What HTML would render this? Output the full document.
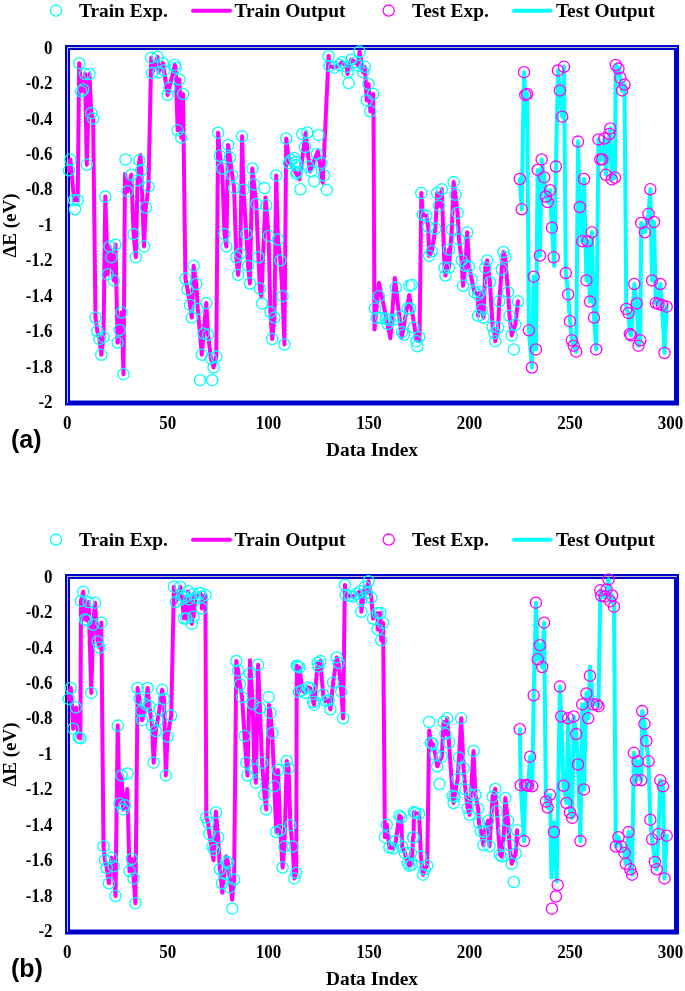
<!DOCTYPE html>
<html><head><meta charset="utf-8"><style>
html,body{margin:0;padding:0;background:#fff;}
svg{display:block;will-change:transform;}
.lg{font-family:"Liberation Serif",serif;font-weight:bold;font-size:19.4px;fill:#000;}
.tk{font-family:"Liberation Serif",serif;font-weight:bold;font-size:17px;fill:#000;}
.pl{font-family:"Liberation Sans",sans-serif;font-weight:bold;font-size:25px;fill:#000;}
</style></head><body>
<svg width="685" height="991" viewBox="0 0 685 991">
<g transform="translate(0,0)">
<circle cx="56" cy="10.6" r="5.6" fill="none" stroke="#00FFFF" stroke-width="1.3"/>
<text x="78.9" y="17" class="lg">Train Exp.</text>
<line x1="193" y1="10.7" x2="230" y2="10.7" stroke="#FF00FF" stroke-width="4" stroke-linecap="round"/>
<text x="234.4" y="17" class="lg">Train Output</text>
<circle cx="388.7" cy="10.6" r="5.6" fill="none" stroke="#FF00FF" stroke-width="1.3"/>
<text x="412" y="17" class="lg">Test Exp.</text>
<line x1="514" y1="10.7" x2="550.5" y2="10.7" stroke="#00FFFF" stroke-width="4" stroke-linecap="round"/>
<text x="555.9" y="17" class="lg">Test Output</text>
<text transform="translate(52.6,53.65) scale(1,1.07)" class="tk" text-anchor="end">0</text>
<text transform="translate(52.6,89.11) scale(1,1.07)" class="tk" text-anchor="end">-0.2</text>
<text transform="translate(52.6,124.57) scale(1,1.07)" class="tk" text-anchor="end">-0.4</text>
<text transform="translate(52.6,160.03) scale(1,1.07)" class="tk" text-anchor="end">-0.6</text>
<text transform="translate(52.6,195.49) scale(1,1.07)" class="tk" text-anchor="end">-0.8</text>
<text transform="translate(52.6,230.95) scale(1,1.07)" class="tk" text-anchor="end">-1</text>
<text transform="translate(52.6,266.41) scale(1,1.07)" class="tk" text-anchor="end">-1.2</text>
<text transform="translate(52.6,301.87) scale(1,1.07)" class="tk" text-anchor="end">-1.4</text>
<text transform="translate(52.6,337.33) scale(1,1.07)" class="tk" text-anchor="end">-1.6</text>
<text transform="translate(52.6,372.79) scale(1,1.07)" class="tk" text-anchor="end">-1.8</text>
<text transform="translate(52.6,408.25) scale(1,1.07)" class="tk" text-anchor="end">-2</text>
<text transform="translate(67.30,429) scale(1,1.06)" class="tk" text-anchor="middle">0</text>
<text transform="translate(167.85,429) scale(1,1.06)" class="tk" text-anchor="middle">50</text>
<text transform="translate(268.40,429) scale(1,1.06)" class="tk" text-anchor="middle">100</text>
<text transform="translate(368.95,429) scale(1,1.06)" class="tk" text-anchor="middle">150</text>
<text transform="translate(469.50,429) scale(1,1.06)" class="tk" text-anchor="middle">200</text>
<text transform="translate(570.05,429) scale(1,1.06)" class="tk" text-anchor="middle">250</text>
<text transform="translate(670.60,429) scale(1,1.06)" class="tk" text-anchor="middle">300</text>
<text x="372" y="455.8" class="lg" text-anchor="middle">Data Index</text>
<text transform="translate(15.6,225.5) rotate(-90)" class="lg" style="font-size:19px" text-anchor="middle">ΔE (eV)</text>
<text x="11" y="448" class="pl">(a)</text>
<rect x="67.5" y="47.5" width="609" height="355.5" fill="none" stroke="#0000CC" stroke-width="5"/>
<path d="M67.5 403V47.5H677" fill="none" stroke="#C0C0C0" stroke-width="1"/>
<polyline points="69,170.3 70.4,159.4 74.1,200.2 77.7,200.2 79.2,63.2 81.3,91.3 83.2,89.5 85,74 86.8,164.8 89.5,74 91.3,113.1 93.1,118.5 95.5,317.6 97.3,331.2 99.5,339 101.3,354.8 103.5,337.2 105.3,196.6 107.7,274.4 109.5,246.4 111.3,257.3 113.7,280.4 115.5,244.6 117.6,342.6 119.5,330 121.6,312.5 123.5,374.2 125,174 127.6,191.2 131.3,174.8 133.6,234.1 135.8,257.3 137.6,180.3 139.4,160.3 140.5,155 141.3,170.3 144,246.4 145.8,207.5 148.5,186.6 151.2,57.7 152.1,73.1 157.6,56.8 158.5,72.2 163,63.2 164,70.4 167.6,94.9 169.4,87.7 174.8,65 175.7,67.7 177.6,130.3 179.4,79.5 181.2,137.6 183,94 185.4,278.6 187.6,289.5 190,304.9 191.8,317.6 193.6,265.8 196.3,284 197.8,308.9 201.8,354.8 203.6,333.6 206.3,303.1 208.1,334.8 210.9,358.4 213.6,367.5 216.3,356.6 218.1,132.7 219.9,155.7 222.1,168.5 224.5,234.1 226.3,246.4 228.1,144.9 229.9,157.6 232.3,175.4 234.1,188.1 236.3,257.3 238.1,274.9 240.3,253.7 242.1,136.3 243.5,189.7 246.3,234.1 248.1,265.8 249.9,283.5 252.3,168.5 254.1,184.4 256.3,203.9 258.4,257.3 259.9,288.5 261.4,297 265.5,197.5 266.2,205.3 268.6,235.9 270.4,312.1 272.2,339 274.4,317.6 276.2,175.4 278,239.5 280.4,260.4 282.6,296.2 284.4,344.5 286.2,138.5 289,161 299.5,179.3 305.6,133 310,171.4 317.9,151.3 322.7,182.8 328.6,55.9 329.5,65.9 334,67.7 339.5,65 342.2,62.2 346.7,66.8 347.5,74 347.6,72.2 351.3,59.5 355.8,62.2 358.5,65.9 359.5,51.4 363.1,72.2 364.9,66.8 366.7,100.4 368.5,84 370.3,111.3 373.1,94 373.5,118 374.5,329.5 379,283 390.4,338.3 394.8,278 401.8,337.4 409.2,295 416.7,340 419.5,341 421.3,193 422.7,214.8 426.3,215.7 428.2,226.8 429.1,255.9 431.8,251.3 435.4,228.6 437.2,193 439,205.7 441.8,189.3 444.5,267.7 445.4,275.5 449,249.5 449,267.7 451.8,229.5 453.6,182.1 455.4,194.8 457.6,212.9 459,239.5 461.7,260.4 463,285.8 465.4,265.8 467.2,232.3 469,266.4 471.7,279.5 474.5,292.2 478.1,294.9 478.1,315.8 479.9,292.2 481.7,309.4 483.5,317.6 485.3,267.7 487.2,260.4 489.9,282.2 492.6,326.7 494.4,333 495.3,341.2 498.1,327.6 499.3,301.3 501.7,269.5 503.5,251.9 505.3,257.3 508,292.2 509.5,315.8 511.7,335.4 515.3,324.5 518,301.3" fill="none" stroke="#FF00FF" stroke-width="4" stroke-linejoin="round" stroke-linecap="round"/>
<polyline points="519.8,179 521.7,209.3 524,72.2 525.3,94.9 527.1,94 528.9,330.3 531.9,367.5 533.7,276.7 535.9,349.4 537.7,169.9 539.9,255.5 541.7,159.4 544.1,177.2 545.9,196.6 547.7,202 550.1,190.2 551.9,227.7 554.2,266 555.9,166.6 558,70.4 559.9,90.4 562.2,116.7 564,66.8 565.8,273.1 568.2,294.4 570,321.2 571.8,340.3 573.7,345.7 576.2,351.7 578,141.6 579.8,207.1 582.2,241.3 584,179 586.4,280.4 587.6,241.3 590,301.6 591.8,232.3 594,317.6 596.2,349.4 598.5,139.4 600.3,159.4 602.2,159.4 604.5,138.5 605.8,174.8 609.4,134 610.3,128.5 611.8,179.4 614.9,177.5 615.8,65 618.5,68.6 620.3,77.7 622.1,90.4 624.5,84.6 626.3,308.9 628.5,313.1 629.9,333.9 631.2,335.4 634.3,284 636.7,303.4 638.5,345.7 640.3,340.3 641.2,222.9 644.9,232.3 648.5,213.8 650.3,189.3 652.1,280.4 654,222 655.8,303.1 658.5,304 660.3,284 662.1,304.9 664.5,353 666.7,306.7" fill="none" stroke="#00FFFF" stroke-width="4" stroke-linejoin="round" stroke-linecap="round"/>
<path d="M73.6 63.2a5.6 5.6 0 1 0 11.2 0a5.6 5.6 0 1 0 -11.2 0M79.4 74a5.6 5.6 0 1 0 11.2 0a5.6 5.6 0 1 0 -11.2 0M83.9 74a5.6 5.6 0 1 0 11.2 0a5.6 5.6 0 1 0 -11.2 0M75.7 91.3a5.6 5.6 0 1 0 11.2 0a5.6 5.6 0 1 0 -11.2 0M77.6 89.5a5.6 5.6 0 1 0 11.2 0a5.6 5.6 0 1 0 -11.2 0M85.7 113.1a5.6 5.6 0 1 0 11.2 0a5.6 5.6 0 1 0 -11.2 0M87.5 118.5a5.6 5.6 0 1 0 11.2 0a5.6 5.6 0 1 0 -11.2 0M64.8 159.4a5.6 5.6 0 1 0 11.2 0a5.6 5.6 0 1 0 -11.2 0M63.4 170.3a5.6 5.6 0 1 0 11.2 0a5.6 5.6 0 1 0 -11.2 0M81.2 164.8a5.6 5.6 0 1 0 11.2 0a5.6 5.6 0 1 0 -11.2 0M68.5 200.2a5.6 5.6 0 1 0 11.2 0a5.6 5.6 0 1 0 -11.2 0M72.1 200.2a5.6 5.6 0 1 0 11.2 0a5.6 5.6 0 1 0 -11.2 0M69.4 209.3a5.6 5.6 0 1 0 11.2 0a5.6 5.6 0 1 0 -11.2 0M99.7 196.6a5.6 5.6 0 1 0 11.2 0a5.6 5.6 0 1 0 -11.2 0M119.9 159.4a5.6 5.6 0 1 0 11.2 0a5.6 5.6 0 1 0 -11.2 0M133.8 160.3a5.6 5.6 0 1 0 11.2 0a5.6 5.6 0 1 0 -11.2 0M135.7 170.3a5.6 5.6 0 1 0 11.2 0a5.6 5.6 0 1 0 -11.2 0M125.7 174.8a5.6 5.6 0 1 0 11.2 0a5.6 5.6 0 1 0 -11.2 0M132 180.3a5.6 5.6 0 1 0 11.2 0a5.6 5.6 0 1 0 -11.2 0M122 191.2a5.6 5.6 0 1 0 11.2 0a5.6 5.6 0 1 0 -11.2 0M142.9 186.6a5.6 5.6 0 1 0 11.2 0a5.6 5.6 0 1 0 -11.2 0M140.2 207.5a5.6 5.6 0 1 0 11.2 0a5.6 5.6 0 1 0 -11.2 0M145.6 57.7a5.6 5.6 0 1 0 11.2 0a5.6 5.6 0 1 0 -11.2 0M152 56.8a5.6 5.6 0 1 0 11.2 0a5.6 5.6 0 1 0 -11.2 0M157.4 63.2a5.6 5.6 0 1 0 11.2 0a5.6 5.6 0 1 0 -11.2 0M146.5 73.1a5.6 5.6 0 1 0 11.2 0a5.6 5.6 0 1 0 -11.2 0M152.9 72.2a5.6 5.6 0 1 0 11.2 0a5.6 5.6 0 1 0 -11.2 0M158.4 70.4a5.6 5.6 0 1 0 11.2 0a5.6 5.6 0 1 0 -11.2 0M169.2 65a5.6 5.6 0 1 0 11.2 0a5.6 5.6 0 1 0 -11.2 0M170.1 67.7a5.6 5.6 0 1 0 11.2 0a5.6 5.6 0 1 0 -11.2 0M163.8 87.7a5.6 5.6 0 1 0 11.2 0a5.6 5.6 0 1 0 -11.2 0M162 94.9a5.6 5.6 0 1 0 11.2 0a5.6 5.6 0 1 0 -11.2 0M173.8 79.5a5.6 5.6 0 1 0 11.2 0a5.6 5.6 0 1 0 -11.2 0M177.4 94a5.6 5.6 0 1 0 11.2 0a5.6 5.6 0 1 0 -11.2 0M172 130.3a5.6 5.6 0 1 0 11.2 0a5.6 5.6 0 1 0 -11.2 0M175.6 137.6a5.6 5.6 0 1 0 11.2 0a5.6 5.6 0 1 0 -11.2 0M128 234.1a5.6 5.6 0 1 0 11.2 0a5.6 5.6 0 1 0 -11.2 0M138.4 246.4a5.6 5.6 0 1 0 11.2 0a5.6 5.6 0 1 0 -11.2 0M130.2 257.3a5.6 5.6 0 1 0 11.2 0a5.6 5.6 0 1 0 -11.2 0M103.9 246.4a5.6 5.6 0 1 0 11.2 0a5.6 5.6 0 1 0 -11.2 0M109.9 244.6a5.6 5.6 0 1 0 11.2 0a5.6 5.6 0 1 0 -11.2 0M105.7 257.3a5.6 5.6 0 1 0 11.2 0a5.6 5.6 0 1 0 -11.2 0M102.1 274.4a5.6 5.6 0 1 0 11.2 0a5.6 5.6 0 1 0 -11.2 0M108.1 280.4a5.6 5.6 0 1 0 11.2 0a5.6 5.6 0 1 0 -11.2 0M89.9 317.6a5.6 5.6 0 1 0 11.2 0a5.6 5.6 0 1 0 -11.2 0M91.7 331.2a5.6 5.6 0 1 0 11.2 0a5.6 5.6 0 1 0 -11.2 0M97.9 337.2a5.6 5.6 0 1 0 11.2 0a5.6 5.6 0 1 0 -11.2 0M93.9 339a5.6 5.6 0 1 0 11.2 0a5.6 5.6 0 1 0 -11.2 0M95.7 354.8a5.6 5.6 0 1 0 11.2 0a5.6 5.6 0 1 0 -11.2 0M116 312.5a5.6 5.6 0 1 0 11.2 0a5.6 5.6 0 1 0 -11.2 0M113.9 330a5.6 5.6 0 1 0 11.2 0a5.6 5.6 0 1 0 -11.2 0M112 342.6a5.6 5.6 0 1 0 11.2 0a5.6 5.6 0 1 0 -11.2 0M117.9 374.2a5.6 5.6 0 1 0 11.2 0a5.6 5.6 0 1 0 -11.2 0M212.5 132.7a5.6 5.6 0 1 0 11.2 0a5.6 5.6 0 1 0 -11.2 0M222.5 144.9a5.6 5.6 0 1 0 11.2 0a5.6 5.6 0 1 0 -11.2 0M214.3 155.7a5.6 5.6 0 1 0 11.2 0a5.6 5.6 0 1 0 -11.2 0M224.3 157.6a5.6 5.6 0 1 0 11.2 0a5.6 5.6 0 1 0 -11.2 0M216.5 168.5a5.6 5.6 0 1 0 11.2 0a5.6 5.6 0 1 0 -11.2 0M226.7 175.4a5.6 5.6 0 1 0 11.2 0a5.6 5.6 0 1 0 -11.2 0M228.5 188.1a5.6 5.6 0 1 0 11.2 0a5.6 5.6 0 1 0 -11.2 0M236.5 136.3a5.6 5.6 0 1 0 11.2 0a5.6 5.6 0 1 0 -11.2 0M237.9 189.7a5.6 5.6 0 1 0 11.2 0a5.6 5.6 0 1 0 -11.2 0M246.7 168.5a5.6 5.6 0 1 0 11.2 0a5.6 5.6 0 1 0 -11.2 0M248.5 184.4a5.6 5.6 0 1 0 11.2 0a5.6 5.6 0 1 0 -11.2 0M258.8 188.1a5.6 5.6 0 1 0 11.2 0a5.6 5.6 0 1 0 -11.2 0M250.7 203.9a5.6 5.6 0 1 0 11.2 0a5.6 5.6 0 1 0 -11.2 0M260.6 205.3a5.6 5.6 0 1 0 11.2 0a5.6 5.6 0 1 0 -11.2 0M270.6 175.4a5.6 5.6 0 1 0 11.2 0a5.6 5.6 0 1 0 -11.2 0M280.6 138.5a5.6 5.6 0 1 0 11.2 0a5.6 5.6 0 1 0 -11.2 0M285.4 160a5.6 5.6 0 1 0 11.2 0a5.6 5.6 0 1 0 -11.2 0M288.4 158a5.6 5.6 0 1 0 11.2 0a5.6 5.6 0 1 0 -11.2 0M290.4 165a5.6 5.6 0 1 0 11.2 0a5.6 5.6 0 1 0 -11.2 0M283.4 163a5.6 5.6 0 1 0 11.2 0a5.6 5.6 0 1 0 -11.2 0M290.6 173.9a5.6 5.6 0 1 0 11.2 0a5.6 5.6 0 1 0 -11.2 0M188 265.8a5.6 5.6 0 1 0 11.2 0a5.6 5.6 0 1 0 -11.2 0M179.8 278.6a5.6 5.6 0 1 0 11.2 0a5.6 5.6 0 1 0 -11.2 0M190.7 284a5.6 5.6 0 1 0 11.2 0a5.6 5.6 0 1 0 -11.2 0M182 289.5a5.6 5.6 0 1 0 11.2 0a5.6 5.6 0 1 0 -11.2 0M184.4 304.9a5.6 5.6 0 1 0 11.2 0a5.6 5.6 0 1 0 -11.2 0M192.2 308.9a5.6 5.6 0 1 0 11.2 0a5.6 5.6 0 1 0 -11.2 0M200.7 303.1a5.6 5.6 0 1 0 11.2 0a5.6 5.6 0 1 0 -11.2 0M186.2 317.6a5.6 5.6 0 1 0 11.2 0a5.6 5.6 0 1 0 -11.2 0M198 333.6a5.6 5.6 0 1 0 11.2 0a5.6 5.6 0 1 0 -11.2 0M202.5 334.8a5.6 5.6 0 1 0 11.2 0a5.6 5.6 0 1 0 -11.2 0M196.2 354.8a5.6 5.6 0 1 0 11.2 0a5.6 5.6 0 1 0 -11.2 0M205.3 358.4a5.6 5.6 0 1 0 11.2 0a5.6 5.6 0 1 0 -11.2 0M210.7 356.6a5.6 5.6 0 1 0 11.2 0a5.6 5.6 0 1 0 -11.2 0M208 367.5a5.6 5.6 0 1 0 11.2 0a5.6 5.6 0 1 0 -11.2 0M194.4 380.2a5.6 5.6 0 1 0 11.2 0a5.6 5.6 0 1 0 -11.2 0M206.7 380.2a5.6 5.6 0 1 0 11.2 0a5.6 5.6 0 1 0 -11.2 0M218.9 234.1a5.6 5.6 0 1 0 11.2 0a5.6 5.6 0 1 0 -11.2 0M220.7 246.4a5.6 5.6 0 1 0 11.2 0a5.6 5.6 0 1 0 -11.2 0M240.7 234.1a5.6 5.6 0 1 0 11.2 0a5.6 5.6 0 1 0 -11.2 0M230.7 257.3a5.6 5.6 0 1 0 11.2 0a5.6 5.6 0 1 0 -11.2 0M234.7 253.7a5.6 5.6 0 1 0 11.2 0a5.6 5.6 0 1 0 -11.2 0M232.5 274.9a5.6 5.6 0 1 0 11.2 0a5.6 5.6 0 1 0 -11.2 0M242.5 265.8a5.6 5.6 0 1 0 11.2 0a5.6 5.6 0 1 0 -11.2 0M244.3 283.5a5.6 5.6 0 1 0 11.2 0a5.6 5.6 0 1 0 -11.2 0M252.8 257.3a5.6 5.6 0 1 0 11.2 0a5.6 5.6 0 1 0 -11.2 0M254.3 288.5a5.6 5.6 0 1 0 11.2 0a5.6 5.6 0 1 0 -11.2 0M256.5 303.4a5.6 5.6 0 1 0 11.2 0a5.6 5.6 0 1 0 -11.2 0M263 235.9a5.6 5.6 0 1 0 11.2 0a5.6 5.6 0 1 0 -11.2 0M272.4 239.5a5.6 5.6 0 1 0 11.2 0a5.6 5.6 0 1 0 -11.2 0M274.8 260.4a5.6 5.6 0 1 0 11.2 0a5.6 5.6 0 1 0 -11.2 0M277 296.2a5.6 5.6 0 1 0 11.2 0a5.6 5.6 0 1 0 -11.2 0M264.8 312.1a5.6 5.6 0 1 0 11.2 0a5.6 5.6 0 1 0 -11.2 0M268.8 317.6a5.6 5.6 0 1 0 11.2 0a5.6 5.6 0 1 0 -11.2 0M266.6 339a5.6 5.6 0 1 0 11.2 0a5.6 5.6 0 1 0 -11.2 0M278.8 344.5a5.6 5.6 0 1 0 11.2 0a5.6 5.6 0 1 0 -11.2 0M296.7 134a5.6 5.6 0 1 0 11.2 0a5.6 5.6 0 1 0 -11.2 0M301.7 132.5a5.6 5.6 0 1 0 11.2 0a5.6 5.6 0 1 0 -11.2 0M313 134.9a5.6 5.6 0 1 0 11.2 0a5.6 5.6 0 1 0 -11.2 0M299.4 147a5.6 5.6 0 1 0 11.2 0a5.6 5.6 0 1 0 -11.2 0M311.2 153.9a5.6 5.6 0 1 0 11.2 0a5.6 5.6 0 1 0 -11.2 0M315.7 163a5.6 5.6 0 1 0 11.2 0a5.6 5.6 0 1 0 -11.2 0M290.3 162.1a5.6 5.6 0 1 0 11.2 0a5.6 5.6 0 1 0 -11.2 0M291.2 172.1a5.6 5.6 0 1 0 11.2 0a5.6 5.6 0 1 0 -11.2 0M303 166.6a5.6 5.6 0 1 0 11.2 0a5.6 5.6 0 1 0 -11.2 0M305.7 171.2a5.6 5.6 0 1 0 11.2 0a5.6 5.6 0 1 0 -11.2 0M308.5 181.2a5.6 5.6 0 1 0 11.2 0a5.6 5.6 0 1 0 -11.2 0M318.4 175.4a5.6 5.6 0 1 0 11.2 0a5.6 5.6 0 1 0 -11.2 0M294.8 189.3a5.6 5.6 0 1 0 11.2 0a5.6 5.6 0 1 0 -11.2 0M321.2 189.9a5.6 5.6 0 1 0 11.2 0a5.6 5.6 0 1 0 -11.2 0M323 55.9a5.6 5.6 0 1 0 11.2 0a5.6 5.6 0 1 0 -11.2 0M323.9 65.9a5.6 5.6 0 1 0 11.2 0a5.6 5.6 0 1 0 -11.2 0M328.4 67.7a5.6 5.6 0 1 0 11.2 0a5.6 5.6 0 1 0 -11.2 0M333.9 65a5.6 5.6 0 1 0 11.2 0a5.6 5.6 0 1 0 -11.2 0M336.6 62.2a5.6 5.6 0 1 0 11.2 0a5.6 5.6 0 1 0 -11.2 0M341.1 66.8a5.6 5.6 0 1 0 11.2 0a5.6 5.6 0 1 0 -11.2 0M342 72.2a5.6 5.6 0 1 0 11.2 0a5.6 5.6 0 1 0 -11.2 0M345.7 59.5a5.6 5.6 0 1 0 11.2 0a5.6 5.6 0 1 0 -11.2 0M350.2 62.2a5.6 5.6 0 1 0 11.2 0a5.6 5.6 0 1 0 -11.2 0M352.9 65.9a5.6 5.6 0 1 0 11.2 0a5.6 5.6 0 1 0 -11.2 0M353.9 51.4a5.6 5.6 0 1 0 11.2 0a5.6 5.6 0 1 0 -11.2 0M359.3 66.8a5.6 5.6 0 1 0 11.2 0a5.6 5.6 0 1 0 -11.2 0M357.5 72.2a5.6 5.6 0 1 0 11.2 0a5.6 5.6 0 1 0 -11.2 0M343 83.1a5.6 5.6 0 1 0 11.2 0a5.6 5.6 0 1 0 -11.2 0M362.9 84a5.6 5.6 0 1 0 11.2 0a5.6 5.6 0 1 0 -11.2 0M367.5 94a5.6 5.6 0 1 0 11.2 0a5.6 5.6 0 1 0 -11.2 0M361.1 100.4a5.6 5.6 0 1 0 11.2 0a5.6 5.6 0 1 0 -11.2 0M364.7 111.3a5.6 5.6 0 1 0 11.2 0a5.6 5.6 0 1 0 -11.2 0M373.3 296.2a5.6 5.6 0 1 0 11.2 0a5.6 5.6 0 1 0 -11.2 0M369.3 308.5a5.6 5.6 0 1 0 11.2 0a5.6 5.6 0 1 0 -11.2 0M371.1 318a5.6 5.6 0 1 0 11.2 0a5.6 5.6 0 1 0 -11.2 0M375.6 318a5.6 5.6 0 1 0 11.2 0a5.6 5.6 0 1 0 -11.2 0M379.9 318.5a5.6 5.6 0 1 0 11.2 0a5.6 5.6 0 1 0 -11.2 0M383.8 320a5.6 5.6 0 1 0 11.2 0a5.6 5.6 0 1 0 -11.2 0M388.4 319.4a5.6 5.6 0 1 0 11.2 0a5.6 5.6 0 1 0 -11.2 0M382 324a5.6 5.6 0 1 0 11.2 0a5.6 5.6 0 1 0 -11.2 0M390.2 287.6a5.6 5.6 0 1 0 11.2 0a5.6 5.6 0 1 0 -11.2 0M403.8 285.8a5.6 5.6 0 1 0 11.2 0a5.6 5.6 0 1 0 -11.2 0M394.7 316.7a5.6 5.6 0 1 0 11.2 0a5.6 5.6 0 1 0 -11.2 0M402 308.5a5.6 5.6 0 1 0 11.2 0a5.6 5.6 0 1 0 -11.2 0M398.3 334.8a5.6 5.6 0 1 0 11.2 0a5.6 5.6 0 1 0 -11.2 0M396.5 332.1a5.6 5.6 0 1 0 11.2 0a5.6 5.6 0 1 0 -11.2 0M415.7 193a5.6 5.6 0 1 0 11.2 0a5.6 5.6 0 1 0 -11.2 0M417.1 214.8a5.6 5.6 0 1 0 11.2 0a5.6 5.6 0 1 0 -11.2 0M420.7 215.7a5.6 5.6 0 1 0 11.2 0a5.6 5.6 0 1 0 -11.2 0M431.6 193a5.6 5.6 0 1 0 11.2 0a5.6 5.6 0 1 0 -11.2 0M436.2 189.3a5.6 5.6 0 1 0 11.2 0a5.6 5.6 0 1 0 -11.2 0M433.4 205.7a5.6 5.6 0 1 0 11.2 0a5.6 5.6 0 1 0 -11.2 0M448 182.1a5.6 5.6 0 1 0 11.2 0a5.6 5.6 0 1 0 -11.2 0M449.8 194.8a5.6 5.6 0 1 0 11.2 0a5.6 5.6 0 1 0 -11.2 0M452 212.9a5.6 5.6 0 1 0 11.2 0a5.6 5.6 0 1 0 -11.2 0M406.2 284.9a5.6 5.6 0 1 0 11.2 0a5.6 5.6 0 1 0 -11.2 0M404.4 308.5a5.6 5.6 0 1 0 11.2 0a5.6 5.6 0 1 0 -11.2 0M408 327.6a5.6 5.6 0 1 0 11.2 0a5.6 5.6 0 1 0 -11.2 0M413.5 337.2a5.6 5.6 0 1 0 11.2 0a5.6 5.6 0 1 0 -11.2 0M410.8 341.2a5.6 5.6 0 1 0 11.2 0a5.6 5.6 0 1 0 -11.2 0M411.7 346.3a5.6 5.6 0 1 0 11.2 0a5.6 5.6 0 1 0 -11.2 0M422.6 226.8a5.6 5.6 0 1 0 11.2 0a5.6 5.6 0 1 0 -11.2 0M429.8 228.6a5.6 5.6 0 1 0 11.2 0a5.6 5.6 0 1 0 -11.2 0M446.2 229.5a5.6 5.6 0 1 0 11.2 0a5.6 5.6 0 1 0 -11.2 0M461.6 232.3a5.6 5.6 0 1 0 11.2 0a5.6 5.6 0 1 0 -11.2 0M453.4 239.5a5.6 5.6 0 1 0 11.2 0a5.6 5.6 0 1 0 -11.2 0M426.2 251.3a5.6 5.6 0 1 0 11.2 0a5.6 5.6 0 1 0 -11.2 0M423.5 255.9a5.6 5.6 0 1 0 11.2 0a5.6 5.6 0 1 0 -11.2 0M443.4 249.5a5.6 5.6 0 1 0 11.2 0a5.6 5.6 0 1 0 -11.2 0M438.9 267.7a5.6 5.6 0 1 0 11.2 0a5.6 5.6 0 1 0 -11.2 0M443.4 267.7a5.6 5.6 0 1 0 11.2 0a5.6 5.6 0 1 0 -11.2 0M439.8 275.5a5.6 5.6 0 1 0 11.2 0a5.6 5.6 0 1 0 -11.2 0M456.1 260.4a5.6 5.6 0 1 0 11.2 0a5.6 5.6 0 1 0 -11.2 0M459.8 265.8a5.6 5.6 0 1 0 11.2 0a5.6 5.6 0 1 0 -11.2 0M463.4 266.4a5.6 5.6 0 1 0 11.2 0a5.6 5.6 0 1 0 -11.2 0M457.4 285.8a5.6 5.6 0 1 0 11.2 0a5.6 5.6 0 1 0 -11.2 0M466.1 279.5a5.6 5.6 0 1 0 11.2 0a5.6 5.6 0 1 0 -11.2 0M468.9 292.2a5.6 5.6 0 1 0 11.2 0a5.6 5.6 0 1 0 -11.2 0M472.5 294.9a5.6 5.6 0 1 0 11.2 0a5.6 5.6 0 1 0 -11.2 0M474.3 292.2a5.6 5.6 0 1 0 11.2 0a5.6 5.6 0 1 0 -11.2 0M476.1 309.4a5.6 5.6 0 1 0 11.2 0a5.6 5.6 0 1 0 -11.2 0M472.5 315.8a5.6 5.6 0 1 0 11.2 0a5.6 5.6 0 1 0 -11.2 0M477.9 317.6a5.6 5.6 0 1 0 11.2 0a5.6 5.6 0 1 0 -11.2 0M481.6 260.4a5.6 5.6 0 1 0 11.2 0a5.6 5.6 0 1 0 -11.2 0M479.7 267.7a5.6 5.6 0 1 0 11.2 0a5.6 5.6 0 1 0 -11.2 0M484.3 282.2a5.6 5.6 0 1 0 11.2 0a5.6 5.6 0 1 0 -11.2 0M497.9 251.9a5.6 5.6 0 1 0 11.2 0a5.6 5.6 0 1 0 -11.2 0M499.7 257.3a5.6 5.6 0 1 0 11.2 0a5.6 5.6 0 1 0 -11.2 0M496.1 269.5a5.6 5.6 0 1 0 11.2 0a5.6 5.6 0 1 0 -11.2 0M502.4 292.2a5.6 5.6 0 1 0 11.2 0a5.6 5.6 0 1 0 -11.2 0M512.4 301.3a5.6 5.6 0 1 0 11.2 0a5.6 5.6 0 1 0 -11.2 0M493.7 301.3a5.6 5.6 0 1 0 11.2 0a5.6 5.6 0 1 0 -11.2 0M487 326.7a5.6 5.6 0 1 0 11.2 0a5.6 5.6 0 1 0 -11.2 0M492.5 327.6a5.6 5.6 0 1 0 11.2 0a5.6 5.6 0 1 0 -11.2 0M488.8 333a5.6 5.6 0 1 0 11.2 0a5.6 5.6 0 1 0 -11.2 0M489.7 341.2a5.6 5.6 0 1 0 11.2 0a5.6 5.6 0 1 0 -11.2 0M503.9 315.8a5.6 5.6 0 1 0 11.2 0a5.6 5.6 0 1 0 -11.2 0M509.7 324.5a5.6 5.6 0 1 0 11.2 0a5.6 5.6 0 1 0 -11.2 0M506.1 335.4a5.6 5.6 0 1 0 11.2 0a5.6 5.6 0 1 0 -11.2 0M508.2 349.4a5.6 5.6 0 1 0 11.2 0a5.6 5.6 0 1 0 -11.2 0" fill="none" stroke="#00FFFF" stroke-width="1.3"/>
<path d="M518.4 72.2a5.6 5.6 0 1 0 11.2 0a5.6 5.6 0 1 0 -11.2 0M519.7 94.9a5.6 5.6 0 1 0 11.2 0a5.6 5.6 0 1 0 -11.2 0M521.5 94a5.6 5.6 0 1 0 11.2 0a5.6 5.6 0 1 0 -11.2 0M514.2 179a5.6 5.6 0 1 0 11.2 0a5.6 5.6 0 1 0 -11.2 0M516.1 209.3a5.6 5.6 0 1 0 11.2 0a5.6 5.6 0 1 0 -11.2 0M552.4 70.4a5.6 5.6 0 1 0 11.2 0a5.6 5.6 0 1 0 -11.2 0M558.4 66.8a5.6 5.6 0 1 0 11.2 0a5.6 5.6 0 1 0 -11.2 0M554.3 90.4a5.6 5.6 0 1 0 11.2 0a5.6 5.6 0 1 0 -11.2 0M556.6 116.7a5.6 5.6 0 1 0 11.2 0a5.6 5.6 0 1 0 -11.2 0M536.1 159.4a5.6 5.6 0 1 0 11.2 0a5.6 5.6 0 1 0 -11.2 0M532.1 169.9a5.6 5.6 0 1 0 11.2 0a5.6 5.6 0 1 0 -11.2 0M538.5 177.2a5.6 5.6 0 1 0 11.2 0a5.6 5.6 0 1 0 -11.2 0M550.3 166.6a5.6 5.6 0 1 0 11.2 0a5.6 5.6 0 1 0 -11.2 0M544.5 190.2a5.6 5.6 0 1 0 11.2 0a5.6 5.6 0 1 0 -11.2 0M540.3 196.6a5.6 5.6 0 1 0 11.2 0a5.6 5.6 0 1 0 -11.2 0M542.1 202a5.6 5.6 0 1 0 11.2 0a5.6 5.6 0 1 0 -11.2 0M572.4 141.6a5.6 5.6 0 1 0 11.2 0a5.6 5.6 0 1 0 -11.2 0M578.4 179a5.6 5.6 0 1 0 11.2 0a5.6 5.6 0 1 0 -11.2 0M574.2 207.1a5.6 5.6 0 1 0 11.2 0a5.6 5.6 0 1 0 -11.2 0M592.9 139.4a5.6 5.6 0 1 0 11.2 0a5.6 5.6 0 1 0 -11.2 0M598.9 138.5a5.6 5.6 0 1 0 11.2 0a5.6 5.6 0 1 0 -11.2 0M603.8 134a5.6 5.6 0 1 0 11.2 0a5.6 5.6 0 1 0 -11.2 0M604.7 128.5a5.6 5.6 0 1 0 11.2 0a5.6 5.6 0 1 0 -11.2 0M594.7 159.4a5.6 5.6 0 1 0 11.2 0a5.6 5.6 0 1 0 -11.2 0M596.6 159.4a5.6 5.6 0 1 0 11.2 0a5.6 5.6 0 1 0 -11.2 0M600.2 174.8a5.6 5.6 0 1 0 11.2 0a5.6 5.6 0 1 0 -11.2 0M606.2 179.4a5.6 5.6 0 1 0 11.2 0a5.6 5.6 0 1 0 -11.2 0M609.3 177.5a5.6 5.6 0 1 0 11.2 0a5.6 5.6 0 1 0 -11.2 0M610.2 65a5.6 5.6 0 1 0 11.2 0a5.6 5.6 0 1 0 -11.2 0M612.9 68.6a5.6 5.6 0 1 0 11.2 0a5.6 5.6 0 1 0 -11.2 0M614.7 77.7a5.6 5.6 0 1 0 11.2 0a5.6 5.6 0 1 0 -11.2 0M618.9 84.6a5.6 5.6 0 1 0 11.2 0a5.6 5.6 0 1 0 -11.2 0M616.5 90.4a5.6 5.6 0 1 0 11.2 0a5.6 5.6 0 1 0 -11.2 0M635.6 222.9a5.6 5.6 0 1 0 11.2 0a5.6 5.6 0 1 0 -11.2 0M644.7 189.3a5.6 5.6 0 1 0 11.2 0a5.6 5.6 0 1 0 -11.2 0M642.9 213.8a5.6 5.6 0 1 0 11.2 0a5.6 5.6 0 1 0 -11.2 0M648.4 222a5.6 5.6 0 1 0 11.2 0a5.6 5.6 0 1 0 -11.2 0M546.3 227.7a5.6 5.6 0 1 0 11.2 0a5.6 5.6 0 1 0 -11.2 0M534.3 255.5a5.6 5.6 0 1 0 11.2 0a5.6 5.6 0 1 0 -11.2 0M548.1 257.3a5.6 5.6 0 1 0 11.2 0a5.6 5.6 0 1 0 -11.2 0M528.1 276.7a5.6 5.6 0 1 0 11.2 0a5.6 5.6 0 1 0 -11.2 0M523.3 330.3a5.6 5.6 0 1 0 11.2 0a5.6 5.6 0 1 0 -11.2 0M530.3 349.4a5.6 5.6 0 1 0 11.2 0a5.6 5.6 0 1 0 -11.2 0M526.3 367.5a5.6 5.6 0 1 0 11.2 0a5.6 5.6 0 1 0 -11.2 0M560.2 273.1a5.6 5.6 0 1 0 11.2 0a5.6 5.6 0 1 0 -11.2 0M562.6 294.4a5.6 5.6 0 1 0 11.2 0a5.6 5.6 0 1 0 -11.2 0M564.4 321.2a5.6 5.6 0 1 0 11.2 0a5.6 5.6 0 1 0 -11.2 0M566.2 340.3a5.6 5.6 0 1 0 11.2 0a5.6 5.6 0 1 0 -11.2 0M568.1 345.7a5.6 5.6 0 1 0 11.2 0a5.6 5.6 0 1 0 -11.2 0M570.6 351.7a5.6 5.6 0 1 0 11.2 0a5.6 5.6 0 1 0 -11.2 0M586.2 232.3a5.6 5.6 0 1 0 11.2 0a5.6 5.6 0 1 0 -11.2 0M576.6 241.3a5.6 5.6 0 1 0 11.2 0a5.6 5.6 0 1 0 -11.2 0M582 241.3a5.6 5.6 0 1 0 11.2 0a5.6 5.6 0 1 0 -11.2 0M580.8 280.4a5.6 5.6 0 1 0 11.2 0a5.6 5.6 0 1 0 -11.2 0M584.4 301.6a5.6 5.6 0 1 0 11.2 0a5.6 5.6 0 1 0 -11.2 0M588.4 317.6a5.6 5.6 0 1 0 11.2 0a5.6 5.6 0 1 0 -11.2 0M590.6 349.4a5.6 5.6 0 1 0 11.2 0a5.6 5.6 0 1 0 -11.2 0M628.7 284a5.6 5.6 0 1 0 11.2 0a5.6 5.6 0 1 0 -11.2 0M631.1 303.4a5.6 5.6 0 1 0 11.2 0a5.6 5.6 0 1 0 -11.2 0M620.7 308.9a5.6 5.6 0 1 0 11.2 0a5.6 5.6 0 1 0 -11.2 0M622.9 313.1a5.6 5.6 0 1 0 11.2 0a5.6 5.6 0 1 0 -11.2 0M625.6 335.4a5.6 5.6 0 1 0 11.2 0a5.6 5.6 0 1 0 -11.2 0M624.3 333.9a5.6 5.6 0 1 0 11.2 0a5.6 5.6 0 1 0 -11.2 0M634.7 340.3a5.6 5.6 0 1 0 11.2 0a5.6 5.6 0 1 0 -11.2 0M632.9 345.7a5.6 5.6 0 1 0 11.2 0a5.6 5.6 0 1 0 -11.2 0M639.3 232.3a5.6 5.6 0 1 0 11.2 0a5.6 5.6 0 1 0 -11.2 0M646.5 280.4a5.6 5.6 0 1 0 11.2 0a5.6 5.6 0 1 0 -11.2 0M654.7 284a5.6 5.6 0 1 0 11.2 0a5.6 5.6 0 1 0 -11.2 0M650.2 303.1a5.6 5.6 0 1 0 11.2 0a5.6 5.6 0 1 0 -11.2 0M652.9 304a5.6 5.6 0 1 0 11.2 0a5.6 5.6 0 1 0 -11.2 0M656.5 304.9a5.6 5.6 0 1 0 11.2 0a5.6 5.6 0 1 0 -11.2 0M661.1 306.7a5.6 5.6 0 1 0 11.2 0a5.6 5.6 0 1 0 -11.2 0M658.9 353a5.6 5.6 0 1 0 11.2 0a5.6 5.6 0 1 0 -11.2 0" fill="none" stroke="#FF00FF" stroke-width="1.3"/>
</g>
<g transform="translate(0,529)">
<circle cx="56" cy="10.6" r="5.6" fill="none" stroke="#00FFFF" stroke-width="1.3"/>
<text x="78.9" y="17" class="lg">Train Exp.</text>
<line x1="193" y1="10.7" x2="230" y2="10.7" stroke="#FF00FF" stroke-width="4" stroke-linecap="round"/>
<text x="234.4" y="17" class="lg">Train Output</text>
<circle cx="388.7" cy="10.6" r="5.6" fill="none" stroke="#FF00FF" stroke-width="1.3"/>
<text x="412" y="17" class="lg">Test Exp.</text>
<line x1="514" y1="10.7" x2="550.5" y2="10.7" stroke="#00FFFF" stroke-width="4" stroke-linecap="round"/>
<text x="555.9" y="17" class="lg">Test Output</text>
<text transform="translate(52.6,53.65) scale(1,1.07)" class="tk" text-anchor="end">0</text>
<text transform="translate(52.6,89.11) scale(1,1.07)" class="tk" text-anchor="end">-0.2</text>
<text transform="translate(52.6,124.57) scale(1,1.07)" class="tk" text-anchor="end">-0.4</text>
<text transform="translate(52.6,160.03) scale(1,1.07)" class="tk" text-anchor="end">-0.6</text>
<text transform="translate(52.6,195.49) scale(1,1.07)" class="tk" text-anchor="end">-0.8</text>
<text transform="translate(52.6,230.95) scale(1,1.07)" class="tk" text-anchor="end">-1</text>
<text transform="translate(52.6,266.41) scale(1,1.07)" class="tk" text-anchor="end">-1.2</text>
<text transform="translate(52.6,301.87) scale(1,1.07)" class="tk" text-anchor="end">-1.4</text>
<text transform="translate(52.6,337.33) scale(1,1.07)" class="tk" text-anchor="end">-1.6</text>
<text transform="translate(52.6,372.79) scale(1,1.07)" class="tk" text-anchor="end">-1.8</text>
<text transform="translate(52.6,408.25) scale(1,1.07)" class="tk" text-anchor="end">-2</text>
<text transform="translate(67.30,429) scale(1,1.06)" class="tk" text-anchor="middle">0</text>
<text transform="translate(167.85,429) scale(1,1.06)" class="tk" text-anchor="middle">50</text>
<text transform="translate(268.40,429) scale(1,1.06)" class="tk" text-anchor="middle">100</text>
<text transform="translate(368.95,429) scale(1,1.06)" class="tk" text-anchor="middle">150</text>
<text transform="translate(469.50,429) scale(1,1.06)" class="tk" text-anchor="middle">200</text>
<text transform="translate(570.05,429) scale(1,1.06)" class="tk" text-anchor="middle">250</text>
<text transform="translate(670.60,429) scale(1,1.06)" class="tk" text-anchor="middle">300</text>
<text x="372" y="455.8" class="lg" text-anchor="middle">Data Index</text>
<text transform="translate(15.6,225.5) rotate(-90)" class="lg" style="font-size:19px" text-anchor="middle">ΔE (eV)</text>
<text x="11" y="448" class="pl">(b)</text>
<rect x="67.5" y="47.5" width="609" height="355.5" fill="none" stroke="#0000CC" stroke-width="5"/>
<path d="M67.5 403V47.5H677" fill="none" stroke="#C0C0C0" stroke-width="1"/>
<polyline points="68.6,169.9 70.8,159 73.2,199.7 75.9,178.4 78.6,208.4 80.4,209.3 81,71.9 83.2,62.8 85,90.4 86.8,91.3 88.6,73.1 91.3,163.9 93.1,95.8 95,73.7 97.7,112.5 99.5,118.5 101.3,93.7 103.5,317.2 104.9,331.2 106.8,339 108.9,354.3 111.3,328.8 113.7,337.2 115.5,367 117.7,196.6 119.5,274.4 121.6,246.4 123.1,280.4 124.9,276.2 127.3,260 129.5,342.1 131.8,329.9 133.6,349.4 135.4,374.2 137.6,159 139.4,169.9 141.3,182.1 142.2,191.2 145.8,175.4 147.6,159 149.4,177.5 152.1,196.6 153.6,233.7 155.8,202 157.6,191.2 159.4,180.3 162.1,160.8 164,169.9 165.8,246.4 167.6,207.5 171.2,186.6 173.9,57.7 175.7,73.1 180.3,57.7 181.2,70.4 181.8,66.8 183.9,89.5 184.5,68.6 186.4,89.5 188.2,62.2 189.1,70.4 191.8,94.9 193.6,65 193.6,87.7 195.4,68.6 200,64.1 201.8,67.7 201.8,79.5 205.4,65.9 206.3,288.5 208.1,293.6 209.4,304.9 213.5,331.3 215.9,282.6 218.1,308.2 219.9,340.3 222.3,363.8 226.3,327.3 228.1,333.9 232.1,370.8 234.1,350.6 236.3,132.1 238.1,141.6 239.9,155.4 242.1,168.1 244.5,206.9 246.3,233.7 247.5,246.4 250,131.2 252.6,174.8 254.4,240.4 255.9,253.7 258.1,135.8 259.9,179 262.1,233.7 264.4,265.8 266.2,280.4 269,176 270.4,183.9 272.2,203.9 274.4,257.3 276.2,303.1 278,241 280.2,301.3 282.6,338.5 284.4,317.6 286.8,231.9 288.6,239.2 290.4,296.2 292.6,317.6 294.4,349.4 296.2,343.9 296.8,136.7 297.6,137.6 298.9,163 299.5,138.5 302.3,161.2 305,163.9 307.7,158.5 310.4,159.4 313.2,173 314.1,175.7 317.7,134 318.6,137.6 320.4,132.1 323.1,165.7 325.9,172.1 328.6,171.2 330.4,180.3 333.1,153.6 336.8,128.5 338.6,134 341.3,162.6 343.1,189.3 344.9,55.9 345.8,65.9 349.5,66.8 353.1,67.7 356.7,65 360.4,62.2 361.3,70.4 361.3,82.8 364.9,57.7 366.7,64.1 368.5,52.3 371.3,68.6 373.1,89.5 377.6,84 377.6,100.4 380.3,84 381.2,111.3 383.1,94 384.9,308.2 386.7,295.8 389.4,318.5 393,319.4 395.8,312.1 399.4,286.7 401.2,288.5 402.1,317.6 404.8,323.9 407.6,333.9 409.4,336.7 410.9,323.9 411.8,335.7 413,308.2 413.6,308.5 413.9,283.1 415.4,284 419.1,284.9 420.9,327.6 423.1,345.7 424.5,340.3 427.2,336.7 429.2,201.6 430.9,213.8 432.7,214.8 435.4,225.9 437.2,237.3 441.8,227.7 443.6,193 445.4,204.8 447.2,189.3 449,213.8 452.7,266.8 453.6,274 454.5,267.7 457.6,250.1 459,228.6 461.2,189.3 463.6,239.2 465.4,260.4 467.7,279.1 469.5,285.8 470.8,265.8 473.5,222 475.4,265.8 478.1,279.5 479,293.6 480.8,302.2 483.5,316.1 484.4,303.1 488.1,291.8 489.5,317.2 492.6,267.7 495.3,259.9 496.8,282.2 499.9,325.8 501.7,327.6 504,301.6 505.3,268.9 508,291.8 509.5,315.8 511.7,334.8 515.7,324.5 517.1,301.3" fill="none" stroke="#FF00FF" stroke-width="4" stroke-linejoin="round" stroke-linecap="round"/>
<polyline points="519.8,200.2 520.7,256.2 524,312.1 525.3,255.9 526.8,255.9 528,256.8 530.1,227.7 532.3,257.3 533.7,166.3 535.9,73.7 537.7,130.3 539.9,116.2 542.2,138 544.1,93.7 545.9,272.6 547.7,278.6 550.1,265.8 551.4,348.6 554,293.5 556.7,352.5 559.9,157.6 561.3,187.5 563.5,256.8 566.4,274 568.2,189.3 570,283.5 572.2,288.9 573.7,187.5 576.2,205.1 578,235.5 580.4,312.1 582.2,175.4 584,260.4 586.4,164.5 588.2,189.3 590,137.6 593.1,175.4 596.7,175.4 598.5,177.2 600.3,61.3 601.3,66.8 604.9,67.7 606.7,60.4 608.5,50.4 610.3,72.2 612.1,66.4 614,77.7 615.8,317.6 618.5,308.2 621.2,317.6 624.5,323.9 625.8,334.8 628.5,303.1 630.3,340.3 632.1,345.7 633.9,223.8 636.1,251.3 637.6,232.3 641.2,251.3 642.2,182.1 644.5,194.8 646.3,212 648.5,232.3 650.3,290.7 652.1,310.3 654.9,333 656.7,340.3 658.5,304.9 660.3,251.3 663,257.3 664.5,349.4 666.7,306.7" fill="none" stroke="#00FFFF" stroke-width="4" stroke-linejoin="round" stroke-linecap="round"/>
<path d="M77.6 62.8a5.6 5.6 0 1 0 11.2 0a5.6 5.6 0 1 0 -11.2 0M75.4 71.9a5.6 5.6 0 1 0 11.2 0a5.6 5.6 0 1 0 -11.2 0M83 73.1a5.6 5.6 0 1 0 11.2 0a5.6 5.6 0 1 0 -11.2 0M89.4 73.7a5.6 5.6 0 1 0 11.2 0a5.6 5.6 0 1 0 -11.2 0M79.4 90.4a5.6 5.6 0 1 0 11.2 0a5.6 5.6 0 1 0 -11.2 0M81.2 91.3a5.6 5.6 0 1 0 11.2 0a5.6 5.6 0 1 0 -11.2 0M87.5 95.8a5.6 5.6 0 1 0 11.2 0a5.6 5.6 0 1 0 -11.2 0M95.7 93.7a5.6 5.6 0 1 0 11.2 0a5.6 5.6 0 1 0 -11.2 0M92.1 112.5a5.6 5.6 0 1 0 11.2 0a5.6 5.6 0 1 0 -11.2 0M93.9 118.5a5.6 5.6 0 1 0 11.2 0a5.6 5.6 0 1 0 -11.2 0M65.2 159a5.6 5.6 0 1 0 11.2 0a5.6 5.6 0 1 0 -11.2 0M63 169.9a5.6 5.6 0 1 0 11.2 0a5.6 5.6 0 1 0 -11.2 0M70.3 178.4a5.6 5.6 0 1 0 11.2 0a5.6 5.6 0 1 0 -11.2 0M85.7 163.9a5.6 5.6 0 1 0 11.2 0a5.6 5.6 0 1 0 -11.2 0M67.6 199.7a5.6 5.6 0 1 0 11.2 0a5.6 5.6 0 1 0 -11.2 0M73 208.4a5.6 5.6 0 1 0 11.2 0a5.6 5.6 0 1 0 -11.2 0M74.8 209.3a5.6 5.6 0 1 0 11.2 0a5.6 5.6 0 1 0 -11.2 0M112.1 196.6a5.6 5.6 0 1 0 11.2 0a5.6 5.6 0 1 0 -11.2 0M132 159a5.6 5.6 0 1 0 11.2 0a5.6 5.6 0 1 0 -11.2 0M142 159a5.6 5.6 0 1 0 11.2 0a5.6 5.6 0 1 0 -11.2 0M133.8 169.9a5.6 5.6 0 1 0 11.2 0a5.6 5.6 0 1 0 -11.2 0M140.2 175.4a5.6 5.6 0 1 0 11.2 0a5.6 5.6 0 1 0 -11.2 0M143.8 177.5a5.6 5.6 0 1 0 11.2 0a5.6 5.6 0 1 0 -11.2 0M135.7 182.1a5.6 5.6 0 1 0 11.2 0a5.6 5.6 0 1 0 -11.2 0M136.6 191.2a5.6 5.6 0 1 0 11.2 0a5.6 5.6 0 1 0 -11.2 0M156.5 160.8a5.6 5.6 0 1 0 11.2 0a5.6 5.6 0 1 0 -11.2 0M158.4 169.9a5.6 5.6 0 1 0 11.2 0a5.6 5.6 0 1 0 -11.2 0M153.8 180.3a5.6 5.6 0 1 0 11.2 0a5.6 5.6 0 1 0 -11.2 0M152 191.2a5.6 5.6 0 1 0 11.2 0a5.6 5.6 0 1 0 -11.2 0M146.5 196.6a5.6 5.6 0 1 0 11.2 0a5.6 5.6 0 1 0 -11.2 0M150.2 202a5.6 5.6 0 1 0 11.2 0a5.6 5.6 0 1 0 -11.2 0M165.6 186.6a5.6 5.6 0 1 0 11.2 0a5.6 5.6 0 1 0 -11.2 0M162 207.5a5.6 5.6 0 1 0 11.2 0a5.6 5.6 0 1 0 -11.2 0M168.3 57.7a5.6 5.6 0 1 0 11.2 0a5.6 5.6 0 1 0 -11.2 0M174.7 57.7a5.6 5.6 0 1 0 11.2 0a5.6 5.6 0 1 0 -11.2 0M170.1 73.1a5.6 5.6 0 1 0 11.2 0a5.6 5.6 0 1 0 -11.2 0M175.6 70.4a5.6 5.6 0 1 0 11.2 0a5.6 5.6 0 1 0 -11.2 0M178.3 89.5a5.6 5.6 0 1 0 11.2 0a5.6 5.6 0 1 0 -11.2 0M148 233.7a5.6 5.6 0 1 0 11.2 0a5.6 5.6 0 1 0 -11.2 0M160.2 246.4a5.6 5.6 0 1 0 11.2 0a5.6 5.6 0 1 0 -11.2 0M116 246.4a5.6 5.6 0 1 0 11.2 0a5.6 5.6 0 1 0 -11.2 0M122 244.6a5.6 5.6 0 1 0 11.2 0a5.6 5.6 0 1 0 -11.2 0M113.9 274.4a5.6 5.6 0 1 0 11.2 0a5.6 5.6 0 1 0 -11.2 0M119.3 276.2a5.6 5.6 0 1 0 11.2 0a5.6 5.6 0 1 0 -11.2 0M117.5 280.4a5.6 5.6 0 1 0 11.2 0a5.6 5.6 0 1 0 -11.2 0M97.9 317.2a5.6 5.6 0 1 0 11.2 0a5.6 5.6 0 1 0 -11.2 0M99.3 331.2a5.6 5.6 0 1 0 11.2 0a5.6 5.6 0 1 0 -11.2 0M105.7 328.8a5.6 5.6 0 1 0 11.2 0a5.6 5.6 0 1 0 -11.2 0M101.2 339a5.6 5.6 0 1 0 11.2 0a5.6 5.6 0 1 0 -11.2 0M108.1 337.2a5.6 5.6 0 1 0 11.2 0a5.6 5.6 0 1 0 -11.2 0M103.3 354.3a5.6 5.6 0 1 0 11.2 0a5.6 5.6 0 1 0 -11.2 0M109.9 367a5.6 5.6 0 1 0 11.2 0a5.6 5.6 0 1 0 -11.2 0M126.2 329.9a5.6 5.6 0 1 0 11.2 0a5.6 5.6 0 1 0 -11.2 0M123.9 342.1a5.6 5.6 0 1 0 11.2 0a5.6 5.6 0 1 0 -11.2 0M128 349.4a5.6 5.6 0 1 0 11.2 0a5.6 5.6 0 1 0 -11.2 0M129.8 374.2a5.6 5.6 0 1 0 11.2 0a5.6 5.6 0 1 0 -11.2 0M176.2 66.8a5.6 5.6 0 1 0 11.2 0a5.6 5.6 0 1 0 -11.2 0M182.6 62.2a5.6 5.6 0 1 0 11.2 0a5.6 5.6 0 1 0 -11.2 0M188 65a5.6 5.6 0 1 0 11.2 0a5.6 5.6 0 1 0 -11.2 0M194.4 64.1a5.6 5.6 0 1 0 11.2 0a5.6 5.6 0 1 0 -11.2 0M199.8 65.9a5.6 5.6 0 1 0 11.2 0a5.6 5.6 0 1 0 -11.2 0M178.9 68.6a5.6 5.6 0 1 0 11.2 0a5.6 5.6 0 1 0 -11.2 0M183.5 70.4a5.6 5.6 0 1 0 11.2 0a5.6 5.6 0 1 0 -11.2 0M189.8 68.6a5.6 5.6 0 1 0 11.2 0a5.6 5.6 0 1 0 -11.2 0M196.2 67.7a5.6 5.6 0 1 0 11.2 0a5.6 5.6 0 1 0 -11.2 0M196.2 79.5a5.6 5.6 0 1 0 11.2 0a5.6 5.6 0 1 0 -11.2 0M180.8 89.5a5.6 5.6 0 1 0 11.2 0a5.6 5.6 0 1 0 -11.2 0M188 87.7a5.6 5.6 0 1 0 11.2 0a5.6 5.6 0 1 0 -11.2 0M186.2 94.9a5.6 5.6 0 1 0 11.2 0a5.6 5.6 0 1 0 -11.2 0M230.7 132.1a5.6 5.6 0 1 0 11.2 0a5.6 5.6 0 1 0 -11.2 0M232.5 141.6a5.6 5.6 0 1 0 11.2 0a5.6 5.6 0 1 0 -11.2 0M234.3 155.4a5.6 5.6 0 1 0 11.2 0a5.6 5.6 0 1 0 -11.2 0M236.5 168.1a5.6 5.6 0 1 0 11.2 0a5.6 5.6 0 1 0 -11.2 0M244.3 144.5a5.6 5.6 0 1 0 11.2 0a5.6 5.6 0 1 0 -11.2 0M252.5 135.8a5.6 5.6 0 1 0 11.2 0a5.6 5.6 0 1 0 -11.2 0M247 174.8a5.6 5.6 0 1 0 11.2 0a5.6 5.6 0 1 0 -11.2 0M254.3 179a5.6 5.6 0 1 0 11.2 0a5.6 5.6 0 1 0 -11.2 0M263 168.1a5.6 5.6 0 1 0 11.2 0a5.6 5.6 0 1 0 -11.2 0M264.8 183.9a5.6 5.6 0 1 0 11.2 0a5.6 5.6 0 1 0 -11.2 0M266.6 203.9a5.6 5.6 0 1 0 11.2 0a5.6 5.6 0 1 0 -11.2 0M238.9 206.9a5.6 5.6 0 1 0 11.2 0a5.6 5.6 0 1 0 -11.2 0M292 137.6a5.6 5.6 0 1 0 11.2 0a5.6 5.6 0 1 0 -11.2 0M293.3 163a5.6 5.6 0 1 0 11.2 0a5.6 5.6 0 1 0 -11.2 0M200.7 288.5a5.6 5.6 0 1 0 11.2 0a5.6 5.6 0 1 0 -11.2 0M202.5 293.6a5.6 5.6 0 1 0 11.2 0a5.6 5.6 0 1 0 -11.2 0M210.3 283.5a5.6 5.6 0 1 0 11.2 0a5.6 5.6 0 1 0 -11.2 0M203.8 304.9a5.6 5.6 0 1 0 11.2 0a5.6 5.6 0 1 0 -11.2 0M212.5 308.2a5.6 5.6 0 1 0 11.2 0a5.6 5.6 0 1 0 -11.2 0M206.7 317.6a5.6 5.6 0 1 0 11.2 0a5.6 5.6 0 1 0 -11.2 0M208.5 320.9a5.6 5.6 0 1 0 11.2 0a5.6 5.6 0 1 0 -11.2 0M220.7 332.5a5.6 5.6 0 1 0 11.2 0a5.6 5.6 0 1 0 -11.2 0M222.5 333.9a5.6 5.6 0 1 0 11.2 0a5.6 5.6 0 1 0 -11.2 0M214.3 340.3a5.6 5.6 0 1 0 11.2 0a5.6 5.6 0 1 0 -11.2 0M218.9 344.8a5.6 5.6 0 1 0 11.2 0a5.6 5.6 0 1 0 -11.2 0M216.5 354.3a5.6 5.6 0 1 0 11.2 0a5.6 5.6 0 1 0 -11.2 0M228.5 350.6a5.6 5.6 0 1 0 11.2 0a5.6 5.6 0 1 0 -11.2 0M224.3 358.4a5.6 5.6 0 1 0 11.2 0a5.6 5.6 0 1 0 -11.2 0M226.7 379.7a5.6 5.6 0 1 0 11.2 0a5.6 5.6 0 1 0 -11.2 0M240.7 233.7a5.6 5.6 0 1 0 11.2 0a5.6 5.6 0 1 0 -11.2 0M248.8 240.4a5.6 5.6 0 1 0 11.2 0a5.6 5.6 0 1 0 -11.2 0M241.9 246.4a5.6 5.6 0 1 0 11.2 0a5.6 5.6 0 1 0 -11.2 0M250.3 253.7a5.6 5.6 0 1 0 11.2 0a5.6 5.6 0 1 0 -11.2 0M256.5 233.7a5.6 5.6 0 1 0 11.2 0a5.6 5.6 0 1 0 -11.2 0M258.8 265.8a5.6 5.6 0 1 0 11.2 0a5.6 5.6 0 1 0 -11.2 0M260.6 280.4a5.6 5.6 0 1 0 11.2 0a5.6 5.6 0 1 0 -11.2 0M272.4 241a5.6 5.6 0 1 0 11.2 0a5.6 5.6 0 1 0 -11.2 0M268.8 257.3a5.6 5.6 0 1 0 11.2 0a5.6 5.6 0 1 0 -11.2 0M281.2 231.9a5.6 5.6 0 1 0 11.2 0a5.6 5.6 0 1 0 -11.2 0M283 239.2a5.6 5.6 0 1 0 11.2 0a5.6 5.6 0 1 0 -11.2 0M270.6 303.1a5.6 5.6 0 1 0 11.2 0a5.6 5.6 0 1 0 -11.2 0M274.6 301.3a5.6 5.6 0 1 0 11.2 0a5.6 5.6 0 1 0 -11.2 0M284.8 296.2a5.6 5.6 0 1 0 11.2 0a5.6 5.6 0 1 0 -11.2 0M278.8 317.6a5.6 5.6 0 1 0 11.2 0a5.6 5.6 0 1 0 -11.2 0M287 317.6a5.6 5.6 0 1 0 11.2 0a5.6 5.6 0 1 0 -11.2 0M277 338.5a5.6 5.6 0 1 0 11.2 0a5.6 5.6 0 1 0 -11.2 0M290.6 343.9a5.6 5.6 0 1 0 11.2 0a5.6 5.6 0 1 0 -11.2 0M288.8 349.4a5.6 5.6 0 1 0 11.2 0a5.6 5.6 0 1 0 -11.2 0M293.9 138.5a5.6 5.6 0 1 0 11.2 0a5.6 5.6 0 1 0 -11.2 0M291.2 136.7a5.6 5.6 0 1 0 11.2 0a5.6 5.6 0 1 0 -11.2 0M296.7 161.2a5.6 5.6 0 1 0 11.2 0a5.6 5.6 0 1 0 -11.2 0M302.1 158.5a5.6 5.6 0 1 0 11.2 0a5.6 5.6 0 1 0 -11.2 0M304.8 159.4a5.6 5.6 0 1 0 11.2 0a5.6 5.6 0 1 0 -11.2 0M299.4 163.9a5.6 5.6 0 1 0 11.2 0a5.6 5.6 0 1 0 -11.2 0M307.6 173a5.6 5.6 0 1 0 11.2 0a5.6 5.6 0 1 0 -11.2 0M308.5 175.7a5.6 5.6 0 1 0 11.2 0a5.6 5.6 0 1 0 -11.2 0M312.1 134a5.6 5.6 0 1 0 11.2 0a5.6 5.6 0 1 0 -11.2 0M314.8 132.1a5.6 5.6 0 1 0 11.2 0a5.6 5.6 0 1 0 -11.2 0M313 137.6a5.6 5.6 0 1 0 11.2 0a5.6 5.6 0 1 0 -11.2 0M317.5 165.7a5.6 5.6 0 1 0 11.2 0a5.6 5.6 0 1 0 -11.2 0M320.3 172.1a5.6 5.6 0 1 0 11.2 0a5.6 5.6 0 1 0 -11.2 0M323 171.2a5.6 5.6 0 1 0 11.2 0a5.6 5.6 0 1 0 -11.2 0M324.8 180.3a5.6 5.6 0 1 0 11.2 0a5.6 5.6 0 1 0 -11.2 0M327.5 153.6a5.6 5.6 0 1 0 11.2 0a5.6 5.6 0 1 0 -11.2 0M331.2 128.5a5.6 5.6 0 1 0 11.2 0a5.6 5.6 0 1 0 -11.2 0M333 134a5.6 5.6 0 1 0 11.2 0a5.6 5.6 0 1 0 -11.2 0M335.7 162.6a5.6 5.6 0 1 0 11.2 0a5.6 5.6 0 1 0 -11.2 0M337.5 189.3a5.6 5.6 0 1 0 11.2 0a5.6 5.6 0 1 0 -11.2 0M339.3 55.9a5.6 5.6 0 1 0 11.2 0a5.6 5.6 0 1 0 -11.2 0M340.2 65.9a5.6 5.6 0 1 0 11.2 0a5.6 5.6 0 1 0 -11.2 0M343.9 66.8a5.6 5.6 0 1 0 11.2 0a5.6 5.6 0 1 0 -11.2 0M347.5 67.7a5.6 5.6 0 1 0 11.2 0a5.6 5.6 0 1 0 -11.2 0M351.1 65a5.6 5.6 0 1 0 11.2 0a5.6 5.6 0 1 0 -11.2 0M354.8 62.2a5.6 5.6 0 1 0 11.2 0a5.6 5.6 0 1 0 -11.2 0M359.3 57.7a5.6 5.6 0 1 0 11.2 0a5.6 5.6 0 1 0 -11.2 0M362.9 52.3a5.6 5.6 0 1 0 11.2 0a5.6 5.6 0 1 0 -11.2 0M361.1 64.1a5.6 5.6 0 1 0 11.2 0a5.6 5.6 0 1 0 -11.2 0M365.7 68.6a5.6 5.6 0 1 0 11.2 0a5.6 5.6 0 1 0 -11.2 0M355.7 70.4a5.6 5.6 0 1 0 11.2 0a5.6 5.6 0 1 0 -11.2 0M355.7 82.8a5.6 5.6 0 1 0 11.2 0a5.6 5.6 0 1 0 -11.2 0M372 84a5.6 5.6 0 1 0 11.2 0a5.6 5.6 0 1 0 -11.2 0M374.7 84a5.6 5.6 0 1 0 11.2 0a5.6 5.6 0 1 0 -11.2 0M367.5 89.5a5.6 5.6 0 1 0 11.2 0a5.6 5.6 0 1 0 -11.2 0M377.5 94a5.6 5.6 0 1 0 11.2 0a5.6 5.6 0 1 0 -11.2 0M372 100.4a5.6 5.6 0 1 0 11.2 0a5.6 5.6 0 1 0 -11.2 0M375.6 111.3a5.6 5.6 0 1 0 11.2 0a5.6 5.6 0 1 0 -11.2 0M381.1 295.8a5.6 5.6 0 1 0 11.2 0a5.6 5.6 0 1 0 -11.2 0M379.3 308.2a5.6 5.6 0 1 0 11.2 0a5.6 5.6 0 1 0 -11.2 0M383.8 318.5a5.6 5.6 0 1 0 11.2 0a5.6 5.6 0 1 0 -11.2 0M387.4 319.4a5.6 5.6 0 1 0 11.2 0a5.6 5.6 0 1 0 -11.2 0M390.2 312.1a5.6 5.6 0 1 0 11.2 0a5.6 5.6 0 1 0 -11.2 0M396.5 317.6a5.6 5.6 0 1 0 11.2 0a5.6 5.6 0 1 0 -11.2 0M399.2 323.9a5.6 5.6 0 1 0 11.2 0a5.6 5.6 0 1 0 -11.2 0M393.8 286.7a5.6 5.6 0 1 0 11.2 0a5.6 5.6 0 1 0 -11.2 0M395.6 288.5a5.6 5.6 0 1 0 11.2 0a5.6 5.6 0 1 0 -11.2 0M402 333.9a5.6 5.6 0 1 0 11.2 0a5.6 5.6 0 1 0 -11.2 0M403.8 336.7a5.6 5.6 0 1 0 11.2 0a5.6 5.6 0 1 0 -11.2 0M408.3 283.1a5.6 5.6 0 1 0 11.2 0a5.6 5.6 0 1 0 -11.2 0M407.4 308.2a5.6 5.6 0 1 0 11.2 0a5.6 5.6 0 1 0 -11.2 0M423.5 193a5.6 5.6 0 1 0 11.2 0a5.6 5.6 0 1 0 -11.2 0M438 193a5.6 5.6 0 1 0 11.2 0a5.6 5.6 0 1 0 -11.2 0M441.6 189.3a5.6 5.6 0 1 0 11.2 0a5.6 5.6 0 1 0 -11.2 0M455.6 189.3a5.6 5.6 0 1 0 11.2 0a5.6 5.6 0 1 0 -11.2 0M439.8 204.8a5.6 5.6 0 1 0 11.2 0a5.6 5.6 0 1 0 -11.2 0M425.3 213.8a5.6 5.6 0 1 0 11.2 0a5.6 5.6 0 1 0 -11.2 0M427.1 214.8a5.6 5.6 0 1 0 11.2 0a5.6 5.6 0 1 0 -11.2 0M443.4 213.8a5.6 5.6 0 1 0 11.2 0a5.6 5.6 0 1 0 -11.2 0M467.9 222a5.6 5.6 0 1 0 11.2 0a5.6 5.6 0 1 0 -11.2 0M409.8 284a5.6 5.6 0 1 0 11.2 0a5.6 5.6 0 1 0 -11.2 0M413.5 284.9a5.6 5.6 0 1 0 11.2 0a5.6 5.6 0 1 0 -11.2 0M408 308.5a5.6 5.6 0 1 0 11.2 0a5.6 5.6 0 1 0 -11.2 0M405.3 323.9a5.6 5.6 0 1 0 11.2 0a5.6 5.6 0 1 0 -11.2 0M406.2 335.7a5.6 5.6 0 1 0 11.2 0a5.6 5.6 0 1 0 -11.2 0M415.3 327.6a5.6 5.6 0 1 0 11.2 0a5.6 5.6 0 1 0 -11.2 0M421.6 336.7a5.6 5.6 0 1 0 11.2 0a5.6 5.6 0 1 0 -11.2 0M418.9 340.3a5.6 5.6 0 1 0 11.2 0a5.6 5.6 0 1 0 -11.2 0M417.5 345.7a5.6 5.6 0 1 0 11.2 0a5.6 5.6 0 1 0 -11.2 0M431.6 237.3a5.6 5.6 0 1 0 11.2 0a5.6 5.6 0 1 0 -11.2 0M433.8 255a5.6 5.6 0 1 0 11.2 0a5.6 5.6 0 1 0 -11.2 0M436.2 227.7a5.6 5.6 0 1 0 11.2 0a5.6 5.6 0 1 0 -11.2 0M429.8 225.9a5.6 5.6 0 1 0 11.2 0a5.6 5.6 0 1 0 -11.2 0M453.4 228.6a5.6 5.6 0 1 0 11.2 0a5.6 5.6 0 1 0 -11.2 0M458 239.2a5.6 5.6 0 1 0 11.2 0a5.6 5.6 0 1 0 -11.2 0M452 250.1a5.6 5.6 0 1 0 11.2 0a5.6 5.6 0 1 0 -11.2 0M447.1 266.8a5.6 5.6 0 1 0 11.2 0a5.6 5.6 0 1 0 -11.2 0M448.9 267.7a5.6 5.6 0 1 0 11.2 0a5.6 5.6 0 1 0 -11.2 0M448 274a5.6 5.6 0 1 0 11.2 0a5.6 5.6 0 1 0 -11.2 0M459.8 260.4a5.6 5.6 0 1 0 11.2 0a5.6 5.6 0 1 0 -11.2 0M465.2 265.8a5.6 5.6 0 1 0 11.2 0a5.6 5.6 0 1 0 -11.2 0M469.8 265.8a5.6 5.6 0 1 0 11.2 0a5.6 5.6 0 1 0 -11.2 0M462.1 279.1a5.6 5.6 0 1 0 11.2 0a5.6 5.6 0 1 0 -11.2 0M463.9 285.8a5.6 5.6 0 1 0 11.2 0a5.6 5.6 0 1 0 -11.2 0M472.5 279.5a5.6 5.6 0 1 0 11.2 0a5.6 5.6 0 1 0 -11.2 0M473.4 293.6a5.6 5.6 0 1 0 11.2 0a5.6 5.6 0 1 0 -11.2 0M482.5 291.8a5.6 5.6 0 1 0 11.2 0a5.6 5.6 0 1 0 -11.2 0M475.2 302.2a5.6 5.6 0 1 0 11.2 0a5.6 5.6 0 1 0 -11.2 0M478.8 303.1a5.6 5.6 0 1 0 11.2 0a5.6 5.6 0 1 0 -11.2 0M477.9 316.1a5.6 5.6 0 1 0 11.2 0a5.6 5.6 0 1 0 -11.2 0M483.9 317.2a5.6 5.6 0 1 0 11.2 0a5.6 5.6 0 1 0 -11.2 0M489.7 259.9a5.6 5.6 0 1 0 11.2 0a5.6 5.6 0 1 0 -11.2 0M487 267.7a5.6 5.6 0 1 0 11.2 0a5.6 5.6 0 1 0 -11.2 0M491.2 282.2a5.6 5.6 0 1 0 11.2 0a5.6 5.6 0 1 0 -11.2 0M499.7 268.9a5.6 5.6 0 1 0 11.2 0a5.6 5.6 0 1 0 -11.2 0M502.4 291.8a5.6 5.6 0 1 0 11.2 0a5.6 5.6 0 1 0 -11.2 0M498.4 301.6a5.6 5.6 0 1 0 11.2 0a5.6 5.6 0 1 0 -11.2 0M511.5 301.3a5.6 5.6 0 1 0 11.2 0a5.6 5.6 0 1 0 -11.2 0M494.3 325.8a5.6 5.6 0 1 0 11.2 0a5.6 5.6 0 1 0 -11.2 0M496.1 327.6a5.6 5.6 0 1 0 11.2 0a5.6 5.6 0 1 0 -11.2 0M503.9 315.8a5.6 5.6 0 1 0 11.2 0a5.6 5.6 0 1 0 -11.2 0M510.1 324.5a5.6 5.6 0 1 0 11.2 0a5.6 5.6 0 1 0 -11.2 0M506.1 334.8a5.6 5.6 0 1 0 11.2 0a5.6 5.6 0 1 0 -11.2 0M508.2 353a5.6 5.6 0 1 0 11.2 0a5.6 5.6 0 1 0 -11.2 0" fill="none" stroke="#00FFFF" stroke-width="1.3"/>
<path d="M518.4 312.1a5.6 5.6 0 1 0 11.2 0a5.6 5.6 0 1 0 -11.2 0M515.1 256.2a5.6 5.6 0 1 0 11.2 0a5.6 5.6 0 1 0 -11.2 0M519.7 255.9a5.6 5.6 0 1 0 11.2 0a5.6 5.6 0 1 0 -11.2 0M522.4 256.8a5.6 5.6 0 1 0 11.2 0a5.6 5.6 0 1 0 -11.2 0M514.2 200.2a5.6 5.6 0 1 0 11.2 0a5.6 5.6 0 1 0 -11.2 0M530.3 73.7a5.6 5.6 0 1 0 11.2 0a5.6 5.6 0 1 0 -11.2 0M538.5 93.7a5.6 5.6 0 1 0 11.2 0a5.6 5.6 0 1 0 -11.2 0M534.3 116.2a5.6 5.6 0 1 0 11.2 0a5.6 5.6 0 1 0 -11.2 0M532.1 130.3a5.6 5.6 0 1 0 11.2 0a5.6 5.6 0 1 0 -11.2 0M536.6 138a5.6 5.6 0 1 0 11.2 0a5.6 5.6 0 1 0 -11.2 0M528.1 166.3a5.6 5.6 0 1 0 11.2 0a5.6 5.6 0 1 0 -11.2 0M554.3 157.6a5.6 5.6 0 1 0 11.2 0a5.6 5.6 0 1 0 -11.2 0M555.7 187.5a5.6 5.6 0 1 0 11.2 0a5.6 5.6 0 1 0 -11.2 0M562.6 189.3a5.6 5.6 0 1 0 11.2 0a5.6 5.6 0 1 0 -11.2 0M568.1 187.5a5.6 5.6 0 1 0 11.2 0a5.6 5.6 0 1 0 -11.2 0M570.6 205.1a5.6 5.6 0 1 0 11.2 0a5.6 5.6 0 1 0 -11.2 0M584.4 146.7a5.6 5.6 0 1 0 11.2 0a5.6 5.6 0 1 0 -11.2 0M580.8 164.5a5.6 5.6 0 1 0 11.2 0a5.6 5.6 0 1 0 -11.2 0M576.6 175.4a5.6 5.6 0 1 0 11.2 0a5.6 5.6 0 1 0 -11.2 0M582.6 189.3a5.6 5.6 0 1 0 11.2 0a5.6 5.6 0 1 0 -11.2 0M587.5 175.4a5.6 5.6 0 1 0 11.2 0a5.6 5.6 0 1 0 -11.2 0M591.1 175.4a5.6 5.6 0 1 0 11.2 0a5.6 5.6 0 1 0 -11.2 0M592.9 177.2a5.6 5.6 0 1 0 11.2 0a5.6 5.6 0 1 0 -11.2 0M602.9 50.4a5.6 5.6 0 1 0 11.2 0a5.6 5.6 0 1 0 -11.2 0M594.7 61.3a5.6 5.6 0 1 0 11.2 0a5.6 5.6 0 1 0 -11.2 0M601.1 60.4a5.6 5.6 0 1 0 11.2 0a5.6 5.6 0 1 0 -11.2 0M595.7 66.8a5.6 5.6 0 1 0 11.2 0a5.6 5.6 0 1 0 -11.2 0M599.3 67.7a5.6 5.6 0 1 0 11.2 0a5.6 5.6 0 1 0 -11.2 0M606.5 66.4a5.6 5.6 0 1 0 11.2 0a5.6 5.6 0 1 0 -11.2 0M604.7 72.2a5.6 5.6 0 1 0 11.2 0a5.6 5.6 0 1 0 -11.2 0M608.4 77.7a5.6 5.6 0 1 0 11.2 0a5.6 5.6 0 1 0 -11.2 0M628.3 223.8a5.6 5.6 0 1 0 11.2 0a5.6 5.6 0 1 0 -11.2 0M636.6 182.1a5.6 5.6 0 1 0 11.2 0a5.6 5.6 0 1 0 -11.2 0M638.9 194.8a5.6 5.6 0 1 0 11.2 0a5.6 5.6 0 1 0 -11.2 0M640.7 212a5.6 5.6 0 1 0 11.2 0a5.6 5.6 0 1 0 -11.2 0M524.5 227.7a5.6 5.6 0 1 0 11.2 0a5.6 5.6 0 1 0 -11.2 0M521.2 255.9a5.6 5.6 0 1 0 11.2 0a5.6 5.6 0 1 0 -11.2 0M526.7 257.3a5.6 5.6 0 1 0 11.2 0a5.6 5.6 0 1 0 -11.2 0M544.5 265.8a5.6 5.6 0 1 0 11.2 0a5.6 5.6 0 1 0 -11.2 0M540.3 272.6a5.6 5.6 0 1 0 11.2 0a5.6 5.6 0 1 0 -11.2 0M542.1 278.6a5.6 5.6 0 1 0 11.2 0a5.6 5.6 0 1 0 -11.2 0M548.4 303.1a5.6 5.6 0 1 0 11.2 0a5.6 5.6 0 1 0 -11.2 0M552.1 356.1a5.6 5.6 0 1 0 11.2 0a5.6 5.6 0 1 0 -11.2 0M550.3 367.5a5.6 5.6 0 1 0 11.2 0a5.6 5.6 0 1 0 -11.2 0M546.3 379.7a5.6 5.6 0 1 0 11.2 0a5.6 5.6 0 1 0 -11.2 0M557.9 256.8a5.6 5.6 0 1 0 11.2 0a5.6 5.6 0 1 0 -11.2 0M560.8 274a5.6 5.6 0 1 0 11.2 0a5.6 5.6 0 1 0 -11.2 0M564.4 283.5a5.6 5.6 0 1 0 11.2 0a5.6 5.6 0 1 0 -11.2 0M566.6 288.9a5.6 5.6 0 1 0 11.2 0a5.6 5.6 0 1 0 -11.2 0M572.4 235.5a5.6 5.6 0 1 0 11.2 0a5.6 5.6 0 1 0 -11.2 0M578.4 260.4a5.6 5.6 0 1 0 11.2 0a5.6 5.6 0 1 0 -11.2 0M574.8 312.1a5.6 5.6 0 1 0 11.2 0a5.6 5.6 0 1 0 -11.2 0M612.9 308.2a5.6 5.6 0 1 0 11.2 0a5.6 5.6 0 1 0 -11.2 0M622.9 303.1a5.6 5.6 0 1 0 11.2 0a5.6 5.6 0 1 0 -11.2 0M610.2 317.6a5.6 5.6 0 1 0 11.2 0a5.6 5.6 0 1 0 -11.2 0M615.6 317.6a5.6 5.6 0 1 0 11.2 0a5.6 5.6 0 1 0 -11.2 0M618.9 323.9a5.6 5.6 0 1 0 11.2 0a5.6 5.6 0 1 0 -11.2 0M620.2 334.8a5.6 5.6 0 1 0 11.2 0a5.6 5.6 0 1 0 -11.2 0M624.7 340.3a5.6 5.6 0 1 0 11.2 0a5.6 5.6 0 1 0 -11.2 0M626.5 345.7a5.6 5.6 0 1 0 11.2 0a5.6 5.6 0 1 0 -11.2 0M632 232.3a5.6 5.6 0 1 0 11.2 0a5.6 5.6 0 1 0 -11.2 0M630.5 251.3a5.6 5.6 0 1 0 11.2 0a5.6 5.6 0 1 0 -11.2 0M635.6 251.3a5.6 5.6 0 1 0 11.2 0a5.6 5.6 0 1 0 -11.2 0M642.9 232.3a5.6 5.6 0 1 0 11.2 0a5.6 5.6 0 1 0 -11.2 0M654.7 251.3a5.6 5.6 0 1 0 11.2 0a5.6 5.6 0 1 0 -11.2 0M657.4 257.3a5.6 5.6 0 1 0 11.2 0a5.6 5.6 0 1 0 -11.2 0M644.7 290.7a5.6 5.6 0 1 0 11.2 0a5.6 5.6 0 1 0 -11.2 0M646.5 310.3a5.6 5.6 0 1 0 11.2 0a5.6 5.6 0 1 0 -11.2 0M652.9 304.9a5.6 5.6 0 1 0 11.2 0a5.6 5.6 0 1 0 -11.2 0M661.1 306.7a5.6 5.6 0 1 0 11.2 0a5.6 5.6 0 1 0 -11.2 0M649.3 333a5.6 5.6 0 1 0 11.2 0a5.6 5.6 0 1 0 -11.2 0M651.1 340.3a5.6 5.6 0 1 0 11.2 0a5.6 5.6 0 1 0 -11.2 0M658.9 349.4a5.6 5.6 0 1 0 11.2 0a5.6 5.6 0 1 0 -11.2 0" fill="none" stroke="#FF00FF" stroke-width="1.3"/>
</g>
</svg>
</body></html>
